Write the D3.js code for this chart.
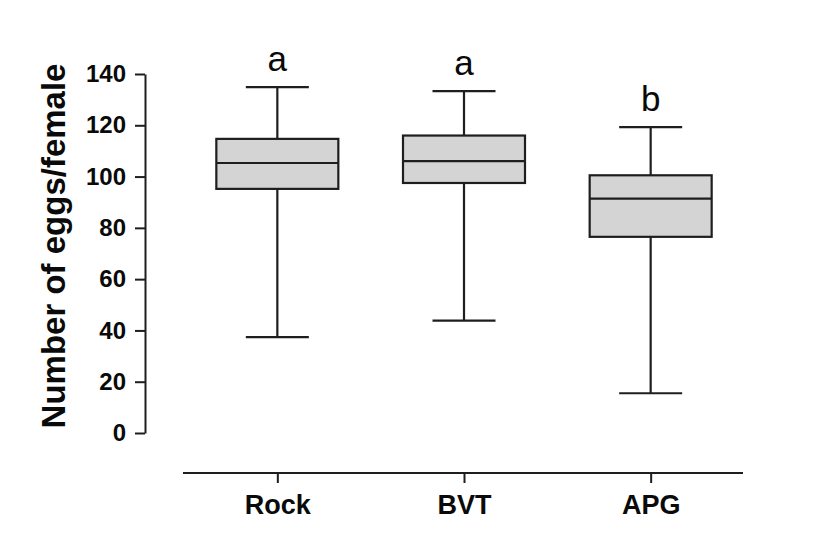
<!DOCTYPE html>
<html>
<head>
<meta charset="utf-8">
<script src="https://cdn.jsdelivr.net/npm/d3@7"></script>
<style>
html,body{margin:0;padding:0;background:#fff;}
svg{display:block;font-family:"Liberation Sans",Arial,sans-serif;}
</style>
</head>
<body>
<svg id="chart" width="823" height="540"></svg>
<script>
const categories = ["Rock", "BVT", "APG"];
const mins    = [37.4, 43.8, 15.5];
const q1s     = [95.2, 97.5, 76.5];
const medians = [105.3, 106.0, 91.4];
const q3s     = [114.7, 116.0, 100.5];
const maxs    = [134.9, 133.3, 119.3];
const letters = ["a", "a", "b"];
const yTicks  = [0, 20, 40, 60, 80, 100, 120, 140];
const yTitle  = "Number of eggs/female";

const svg = d3.select("#chart");
const ink = "#1e1e1e";

const y = d3.scaleLinear().domain([0, 140]).range([433, 74]);
const x = d3.scalePoint().domain(categories).range([184, 744]).padding(0.5);
const boxW = 122;
const capW = 63;

// Y axis
const yAxis = svg.append("g")
  .attr("transform", "translate(145,0)")
  .call(d3.axisLeft(y).tickValues(yTicks).tickSize(10).tickSizeOuter(0).tickPadding(9));
yAxis.select(".domain").attr("stroke", ink).attr("stroke-width", 2);
yAxis.selectAll(".tick line").attr("stroke", ink).attr("stroke-width", 2);
yAxis.selectAll(".tick text")
  .attr("fill", "#0a0a0a").attr("font-size", "24px").attr("font-weight", "bold")
  .attr("font-family", "'Liberation Sans', Arial, sans-serif");

// X axis
const xAxis = svg.append("g")
  .attr("transform", "translate(0,473)")
  .call(d3.axisBottom(x).tickSize(10).tickSizeOuter(0).tickPadding(12));
xAxis.select(".domain").attr("stroke", ink).attr("stroke-width", 2)
  .attr("d", "M183,0H743");
xAxis.selectAll(".tick line").attr("stroke", ink).attr("stroke-width", 2);
xAxis.selectAll(".tick text")
  .attr("fill", "#0a0a0a").attr("font-size", "27px").attr("font-weight", "bold")
  .attr("font-family", "'Liberation Sans', Arial, sans-serif");

// Y title
svg.append("text")
  .attr("transform", "translate(65,246) rotate(-90)")
  .attr("text-anchor", "middle")
  .attr("font-size", "33px").attr("font-weight", "bold").attr("fill", "#0a0a0a")
  .text(yTitle);

// Boxes
const data = categories.map((c, i) => ({
  c, min: mins[i], q1: q1s[i], med: medians[i], q3: q3s[i], max: maxs[i], letter: letters[i]
}));

const g = svg.append("g").selectAll("g").data(data).join("g");

// whiskers
g.append("line")
  .attr("x1", d => x(d.c)).attr("x2", d => x(d.c))
  .attr("y1", d => y(d.max)).attr("y2", d => y(d.q3))
  .attr("stroke", ink).attr("stroke-width", 2.2);
g.append("line")
  .attr("x1", d => x(d.c)).attr("x2", d => x(d.c))
  .attr("y1", d => y(d.q1)).attr("y2", d => y(d.min))
  .attr("stroke", ink).attr("stroke-width", 2.2);
g.append("line")
  .attr("x1", d => x(d.c) - capW / 2).attr("x2", d => x(d.c) + capW / 2)
  .attr("y1", d => y(d.max)).attr("y2", d => y(d.max))
  .attr("stroke", ink).attr("stroke-width", 2.2);
g.append("line")
  .attr("x1", d => x(d.c) - capW / 2).attr("x2", d => x(d.c) + capW / 2)
  .attr("y1", d => y(d.min)).attr("y2", d => y(d.min))
  .attr("stroke", ink).attr("stroke-width", 2.2);

// box
g.append("rect")
  .attr("x", d => x(d.c) - boxW / 2).attr("width", boxW)
  .attr("y", d => y(d.q3)).attr("height", d => y(d.q1) - y(d.q3))
  .attr("fill", "#d4d4d4").attr("stroke", ink).attr("stroke-width", 2.2);
// median
g.append("line")
  .attr("x1", d => x(d.c) - boxW / 2).attr("x2", d => x(d.c) + boxW / 2)
  .attr("y1", d => y(d.med)).attr("y2", d => y(d.med))
  .attr("stroke", ink).attr("stroke-width", 2.2);

// significance letters
g.append("text")
  .attr("x", d => x(d.c)).attr("y", d => y(d.max) - 16)
  .attr("text-anchor", "middle")
  .attr("font-size", "35px").attr("fill", "#0a0a0a")
  .text(d => d.letter);
</script>
</body>
</html>
